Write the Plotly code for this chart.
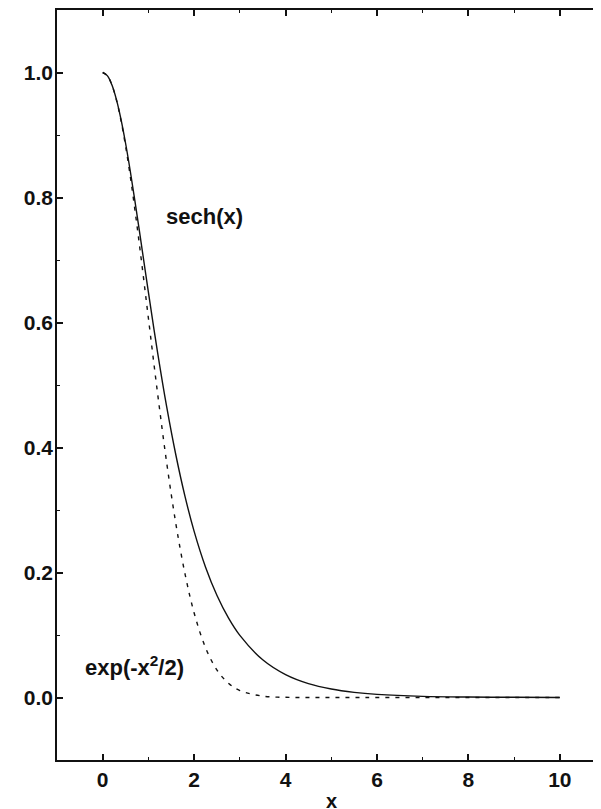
import plotly.graph_objects as go

x_vals = [0, 0.1, 0.2, 0.3, 0.4, 0.5, 0.6, 0.7, 0.8, 0.9, 1.0, 1.2, 1.4, 1.6, 1.8,
          2.0, 2.25, 2.5, 2.75, 3.0, 3.5, 4.0, 4.5, 5.0, 5.5, 6.0, 7.0, 8.0, 9.0, 10.0]
sech_vals = [1.0, 0.9950, 0.9803, 0.9566, 0.9250, 0.8868, 0.8436, 0.7967, 0.7477,
             0.6978, 0.6481, 0.5523, 0.4649, 0.3880, 0.3218, 0.2658, 0.2085, 0.1631,
             0.1273, 0.0993, 0.0603, 0.0366, 0.0222, 0.0135, 0.0082, 0.0050, 0.0018,
             0.0007, 0.0003, 0.0001]
gauss_vals = [1.0, 0.9950, 0.9802, 0.9560, 0.9231, 0.8825, 0.8353, 0.7827, 0.7262,
              0.6670, 0.6065, 0.4868, 0.3753, 0.2780, 0.1979, 0.1353, 0.0796, 0.0439,
              0.0228, 0.0111, 0.0022, 0.0003, 0.0, 0.0, 0.0, 0.0, 0.0, 0.0, 0.0, 0.0]

x_ticks = [0, 2, 4, 6, 8, 10]
y_ticks = [0.0, 0.2, 0.4, 0.6, 0.8, 1.0]
y_tick_labels = ["0.0", "0.2", "0.4", "0.6", "0.8", "1.0"]

FONT = "Liberation Sans, Arial, Helvetica, sans-serif"
INK = "#111111"

fig = go.Figure()
fig.add_trace(go.Scatter(x=x_vals, y=gauss_vals, mode="lines", line_shape="spline",
                         line=dict(color=INK, width=1.4, dash="4px,6px"), showlegend=False))
fig.add_trace(go.Scatter(x=x_vals, y=sech_vals, mode="lines", line_shape="spline",
                         line=dict(color=INK, width=1.4), showlegend=False))

fig.add_annotation(x=1.34, y=0.769, xref="x", yref="y", text="sech(x)", showarrow=False,
                   xanchor="left", yanchor="middle",
                   font=dict(family=FONT, size=22, color=INK, weight="bold"))
fig.add_annotation(x=-0.43, y=0.05, xref="x", yref="y", text="exp(-x<sup>2</sup>/2)",
                   showarrow=False, xanchor="left", yanchor="middle",
                   font=dict(family=FONT, size=22, color=INK, weight="bold"))
fig.add_annotation(x=5, y=-0.054, xref="x", yref="paper", text="x", showarrow=False,
                   xanchor="center", yanchor="middle",
                   font=dict(family=FONT, size=20, color=INK, weight="bold"))

fig.update_xaxes(range=[-1, 10.9], tickvals=x_ticks, ticks="inside", ticklen=6,
                 tickwidth=1.5, tickcolor=INK, showline=True, linecolor=INK, linewidth=1.5,
                 mirror="ticks", showgrid=False, zeroline=False,
                 minor=dict(dtick=1, tick0=0, ticks="inside", ticklen=3, tickcolor=INK,
                            tickwidth=1.2, showgrid=False),
                 tickfont=dict(family=FONT, size=21, color=INK, weight="bold"))
fig.update_yaxes(range=[-0.1, 1.1], tickvals=y_ticks, ticktext=y_tick_labels,
                 ticks="inside", ticklen=6, tickwidth=1.5, tickcolor=INK, showline=True,
                 linecolor=INK, linewidth=1.5, mirror=False, showgrid=False, zeroline=False,
                 ticklabelstandoff=-2,
                 minor=dict(dtick=0.1, tick0=0, ticks="inside", ticklen=3, tickcolor=INK,
                            tickwidth=1.2, showgrid=False),
                 tickfont=dict(family=FONT, size=21, color=INK, weight="bold"))

# page body has an 8px default margin, so the figure is shrunk/shifted to compensate
fig.update_layout(width=593, height=801, margin=dict(l=49, r=0, t=2, b=49),
                  plot_bgcolor="white", paper_bgcolor="white", showlegend=False)

fig.write_html("out.html")
